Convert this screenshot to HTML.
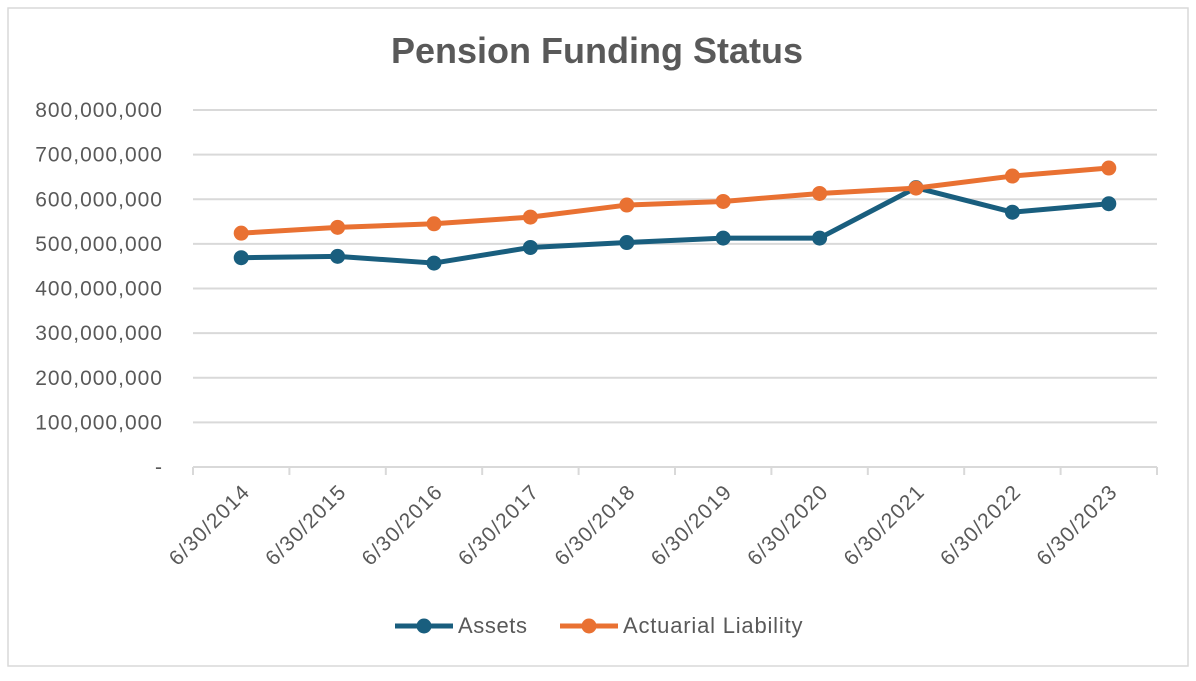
<!DOCTYPE html>
<html><head><meta charset="utf-8"><style>
body{margin:0;background:#fff;}
svg text{font-family:"Liberation Sans",sans-serif;fill:#595959;}
</style></head><body>
<svg width="1196" height="676" xmlns="http://www.w3.org/2000/svg">
<rect x="8" y="8" width="1180" height="658" fill="#fff" stroke="#d9d9d9" stroke-width="1.5"/>
<text x="597" y="63" text-anchor="middle" font-size="36" font-weight="bold">Pension Funding Status</text>
<g id="grid"></g><g id="xaxis"></g><g id="series"></g>
<g>
<g>
<line x1="395" y1="626" x2="453" y2="626" stroke="#195E7E" stroke-width="5"/><circle cx="424" cy="626" r="7.5" fill="#195E7E"/>
<text x="458" y="633" font-size="22" letter-spacing="0.6">Assets</text></g>
<g>
<line x1="560" y1="626" x2="618" y2="626" stroke="#E97132" stroke-width="5"/><circle cx="589" cy="626" r="7.5" fill="#E97132"/>
<text x="623" y="633" font-size="22" letter-spacing="0.8">Actuarial Liability</text></g>
</g>
</svg>
<script>
const categories=["6/30/2014","6/30/2015","6/30/2016","6/30/2017","6/30/2018","6/30/2019","6/30/2020","6/30/2021","6/30/2022","6/30/2023"];
const assets=[469,472,457,492,503,513,513,626,571,590];
const liability=[524,537,545,560,587,595,613,625,652,670];
const yTicks=[0,100,200,300,400,500,600,700,800];
const yTickLabels=["-","100,000,000","200,000,000","300,000,000","400,000,000","500,000,000","600,000,000","700,000,000","800,000,000"];
const NS="http://www.w3.org/2000/svg";
const L=193,R=1157,T=110,B=467,YMAX=800;
const bw=(R-L)/categories.length;
const x=i=>L+bw*(i+0.5);
const y=v=>B-(v/YMAX)*(B-T);
function mk(tag,attrs,parent){const e=document.createElementNS(NS,tag);for(const k in attrs)e.setAttribute(k,attrs[k]);parent.appendChild(e);return e;}
const grid=document.getElementById('grid');
yTicks.forEach((v,i)=>{
 if(v>0){const l=mk('line',{x1:L,x2:R,y1:y(v),y2:y(v),stroke:'#d9d9d9','stroke-width':2},grid);
 
 }
 const t=mk('text',{x:163,y:y(v)+7,'text-anchor':'end','font-size':21,'letter-spacing':1},grid);
 
 
 t.textContent=yTickLabels[i];
});
const xa=document.getElementById('xaxis');
const ax=mk('line',{x1:L,x2:R,y1:B,y2:B,stroke:'#d9d9d9','stroke-width':2},xa);


for(let i=0;i<=categories.length;i++){
 const tk=mk('line',{x1:L+bw*i,x2:L+bw*i,y1:B,y2:B+8,stroke:'#d9d9d9','stroke-width':2},xa);
 
 
}
categories.forEach((c,i)=>{
 const tx=x(i)+10,ty=B+26;
 const t=mk('text',{x:tx,y:ty,'text-anchor':'end','font-size':21,'letter-spacing':1.2,transform:`rotate(-45 ${tx} ${ty})`},xa);
 
 
 t.textContent=c;
});
const sg=document.getElementById('series');
function draw(data,color,name){
 const g=mk('g',{},sg);
 
 
 const p=mk('polyline',{points:data.map((v,i)=>x(i)+','+y(v)).join(' '),fill:'none',stroke:color,'stroke-width':5,'stroke-linejoin':'round'},g);
 
 
 data.forEach((v,i)=>{
  const c=mk('circle',{cx:x(i),cy:y(v),r:7.5,fill:color},g);
  
  
 });
}
draw(assets,'#195E7E','assets');
draw(liability,'#E97132','liability');
</script>
</body></html>
